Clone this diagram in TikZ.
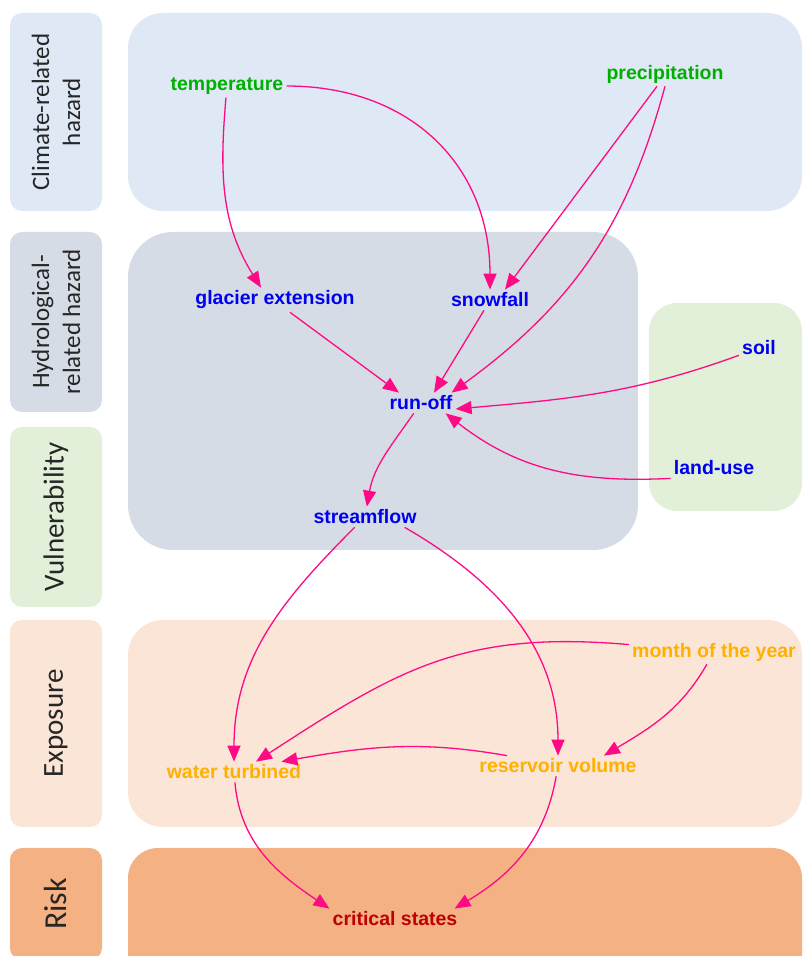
\documentclass[tikz,border=0pt]{standalone}
\usepackage{fontspec}
\setmainfont{Liberation Sans}
\newfontfamily\bandfont{Carlito}
\usepackage{tikz}
\usetikzlibrary{arrows.meta}

\definecolor{climbg}{HTML}{DEE9F5}
\definecolor{hydrobg}{HTML}{D6DCE5}
\definecolor{vulnbg}{HTML}{E2F0D9}
\definecolor{expobg}{HTML}{FBE5D6}
\definecolor{riskbg}{HTML}{F4B183}
\definecolor{climtext}{HTML}{00B000}
\definecolor{hydrotext}{HTML}{0000F0}
\definecolor{expotext}{HTML}{FFB000}
\definecolor{risktext}{HTML}{C00000}
\definecolor{linkpink}{HTML}{FF0A84}

\tikzstyle{bandlabel} = [rectangle, rounded corners=12pt, rotate=90, minimum height=92pt, align=center, text=black!85, font=\bandfont\fontsize{25}{31}\selectfont]
\tikzstyle{bigband} = [font=\bandfont\fontsize{29}{34}\selectfont]
\tikzstyle{varbox} = [inner sep=3pt, font=\bfseries\fontsize{19.5}{22}\selectfont]
\tikzstyle{climvar} = [varbox, text=climtext]
\tikzstyle{hydrovar} = [varbox, text=hydrotext]
\tikzstyle{expovar} = [varbox, text=expotext]
\tikzstyle{riskvar} = [varbox, text=risktext]
\tikzstyle{arrow} = [line width=1.3pt, draw=linkpink, -{Triangle[length=16pt,width=13pt]}]

\begin{document}
\begin{tikzpicture}[x=1pt, y=1pt, node distance=100pt]
\useasboundingbox (0,0) rectangle (803,956);
\clip (0,0) rectangle (803,956);

% band backgrounds
\fill [climbg, rounded corners=35pt] (128,745) rectangle (802,943);
\fill [hydrobg, rounded corners=45pt] (128,406) rectangle (638,724);
\fill [vulnbg, rounded corners=28pt] (649,445) rectangle (802,653);
\fill [expobg, rounded corners=35pt] (128,129) rectangle (802,336);
\fill [riskbg, rounded corners=30pt] (128,-40) rectangle (802,108);

% band labels
\node (climlbl) [bandlabel, fill=climbg, minimum width=198pt] at (56,844) {Climate-related\\hazard};
\node (hydrolbl) [bandlabel, fill=hydrobg, minimum width=180pt] at (56,634) {Hydrological-\\related hazard};
\node (vulnlbl) [bandlabel, bigband, fill=vulnbg, minimum width=180pt] at (56,439) {Vulnerability};
\node (expolbl) [bandlabel, bigband, fill=expobg, minimum width=207pt] at (56,232.5) {Exposure};
\node (risklbl) [bandlabel, bigband, fill=riskbg, minimum width=112pt, font=\bandfont\fontsize{32}{36}\selectfont] at (56,52) {Risk};

% variables
\node (temp) [climvar] at (227,870) {temperature};
\node (precip) [climvar, right of=temp, xshift=338pt, yshift=12pt] {precipitation};
\node (glacier) [hydrovar, below of=temp, xshift=48pt, yshift=-114pt] {glacier extension};
\node (snowfall) [hydrovar, right of=glacier, xshift=115pt] {snowfall};
\node (runoff) [hydrovar, below of=snowfall, xshift=-69pt, yshift=-3pt] {run-off};
\node (soil) [hydrovar, right of=runoff, xshift=238pt, yshift=55pt] {soil};
\node (landuse) [hydrovar, below of=soil, xshift=-45pt, yshift=-20pt] {land-use};
\node (streamflow) [hydrovar, below of=runoff, xshift=-56pt, yshift=-14pt] {streamflow};
\node (month) [expovar, below of=landuse, yshift=-84pt] {month of the year};
\node (reservoir) [expovar, below of=month, xshift=-156pt, yshift=-14pt] {reservoir volume};
\node (water) [expovar, left of=reservoir, xshift=-224pt, yshift=-6pt] {water turbined};
\node (critical) [riskvar, below of=water, xshift=161pt, yshift=-47pt] {critical states};

% links
\draw [arrow] (temp) to[out=-95, in=122] ([xshift=-14pt]glacier.north);
\draw [arrow] (temp) to[out=0, in=90, looseness=1.1] (snowfall);
\draw [arrow] ([xshift=-8pt]precip.south) -- ([xshift=15pt]snowfall.north);
\draw [arrow] (precip.south) to[out=-105, in=36] ([xshift=-4pt]runoff.north east);
\draw [arrow] ([xshift=15pt]glacier.south) -- ([xshift=-22pt]runoff.north);
\draw [arrow] ([xshift=-6pt]snowfall.south) -- ([xshift=13pt]runoff.north);
\draw [arrow] (soil) to[out=200, in=5] ([yshift=-6pt]runoff.east);
\draw [arrow] (landuse.south west) to[out=183, in=-38] ([xshift=-10pt]runoff.south east);
\draw [arrow] (runoff) to[out=-125, in=80] (streamflow);
\draw [arrow] (streamflow) to[out=-135, in=90] (water);
\draw [arrow] ([xshift=-15pt]streamflow.south east) to[out=-30, in=90] (reservoir);
\draw [arrow] (month) to[out=175, in=33, looseness=1.1] ([xshift=22pt]water.north);
\draw [arrow] (month) to[out=-120, in=31] ([xshift=46pt]reservoir.north);
\draw [arrow] ([xshift=-51pt]reservoir.north) to[out=170, in=10] ([xshift=-23pt]water.north east);
\draw [arrow] (water) to[out=-85, in=146] (critical.north west);
\draw [arrow] (reservoir) to[out=-100, in=31] ([xshift=-6pt]critical.north east);
\end{tikzpicture}
\end{document}
